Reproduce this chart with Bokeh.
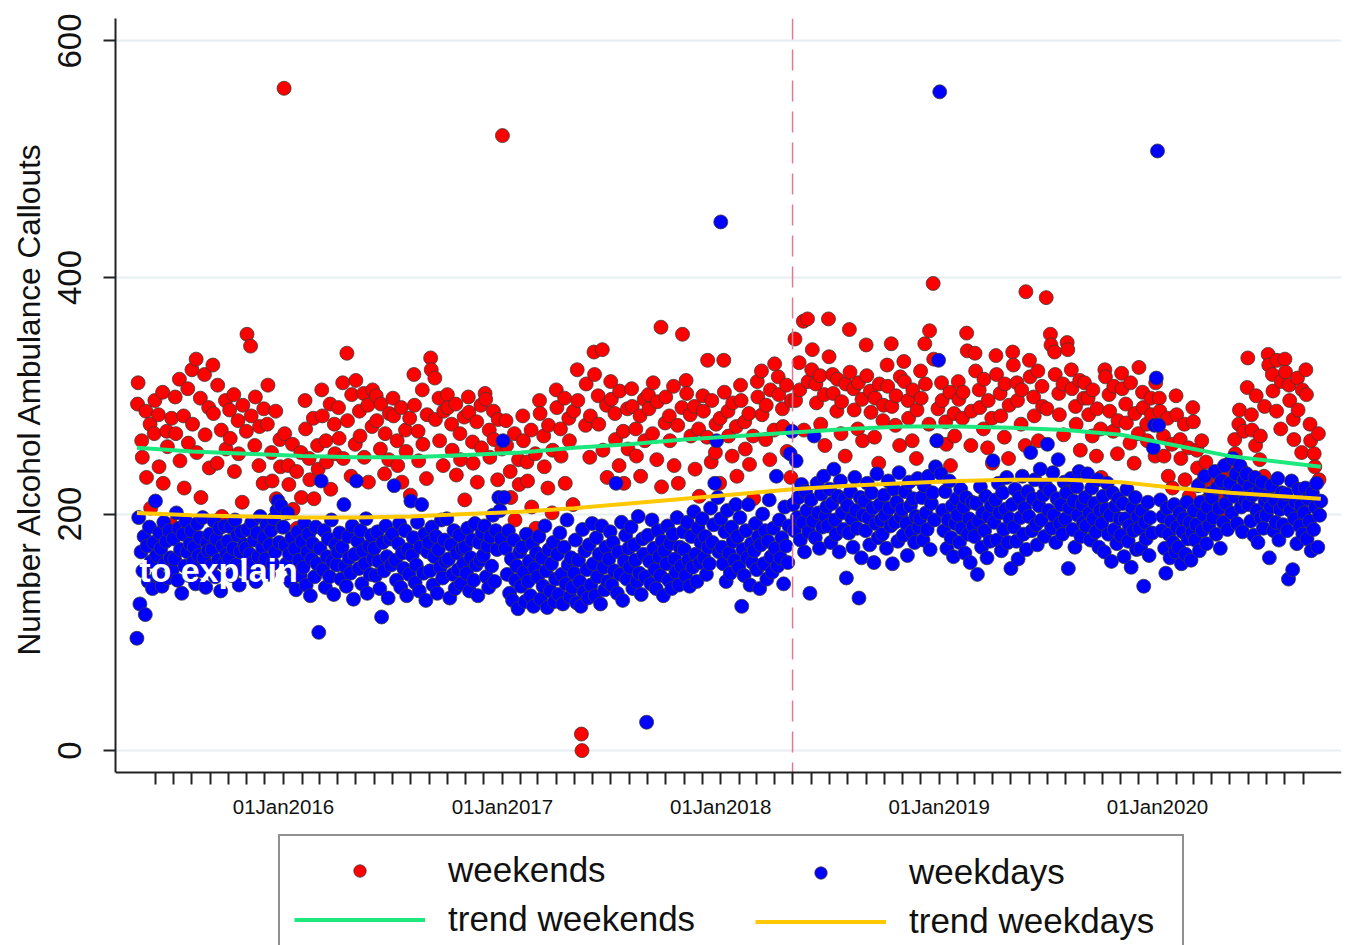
import datetime as dt
from bokeh.plotting import figure
from bokeh.models import (FixedTicker, Legend, LegendItem, Label, Range1d, LinearAxis, Title)
from bokeh.embed import file_html
from bokeh.resources import INLINE

# ---------------- data ----------------
# weekend (Sat/Sun) callouts, chronological within each year
weekend_2015 = [293,311,262,248,287,231,276,205,268,296, 284,240,303,226,270,257,191,281,
                299,268,314,245,283,222,306,260, 322,276,331,252,298,214,318,267,290,239,
                326,285,243,309,271,198,296,255, 288,264,301,236,279,251,210,292,270,
                352,342,283,258,299,241,274,226,289, 276,309,252,228,287,213,263,240]
weekend_2016 = [560,268,241,225,259,204,236,188,252,214, 296,272,247,229,281,213,258,238,
                305,283,262,244,293,221,276,251, 290,264,311,247,336,279,232,301,259,
                313,287,266,302,248,292,227,274,305, 300,279,255,293,234,268,246,285,
                298,283,262,241,290,227,271,253,281,216, 318,292,270,245,305,259,230,284,
                332,322,315,280,298,262,241,287, 301,290,276,254,293,233,268,246,282,212,
                299,286,261,243,278,227,292,256, 302,297,271,248,287,263,229,280,255]
weekend_2017 = [520,279,258,236,214,268,195,246,225, 283,262,244,228,271,206,251,188,
                296,285,266,240,222,275,201,254, 305,290,272,249,298,226,281,262,208,287,
                322,296,14,0,275,310,248,283, 337,318,300,276,339,254,292,231,
                312,297,285,263,241,304,270,226,289,255, 306,291,272,249,283,232,297,262,
                301,289,268,311,246,295,358,223,277, 299,283,262,308,241,275,226,290,352,
                313,302,284,266,291,238,272,215, 300,287,265,330,244,296,252,276,226,281]
weekend_2018 = [330,303,287,266,249,294,274,232, 309,296,278,255,285,242,266,213,
                312,299,321,284,263,292,246,305,271, 327,316,301,289,274,309,253,231,296,
                348,296,328,305,363,271,365,312, 322,339,310,294,317,276,301,258,365,
                333,318,302,287,314,268,295,249,310, 356,320,306,288,272,311,297,262,
                343,317,304,286,265,298,243,310,279,292, 326,308,344,291,275,300,258,316,
                329,312,296,281,262,305,247,288, 321,298,344,310,276,355,395,331,262,289]
weekend_2019 = [311,296,278,259,303,241,285,266, 312,297,281,303,353,338,258,287,
                336,321,305,290,272,314,256,296,281,243, 334,318,302,283,265,310,247,292,
                337,326,311,296,276,305,258,388, 330,316,299,283,321,262,308,291,383,289,
                352,343,337,318,302,284,310,267, 345,339,322,306,291,276,313,254,298,
                311,298,284,266,305,249,289,272,231, 322,316,301,287,270,308,251,279,
                319,306,293,277,260,311,243,285,268, 324,303,290,276,262,298,284,249,311]
weekend_2020 = [298,287,266,249,281,232,259,222, 300,284,263,247,276,229,256,215,290,
                278,254,239,226,262,211,244,203,230, 232,219,207,226,201,238,214,222,
                244,229,263,251,276,288,236,270,307,332, 284,271,258,300,246,266,232,291,
                335,326,318,304,287,330,272,312, 331,320,309,296,280,263,315,288,252,305,
                322,301,276,262,251,240,268,229]

# weekday callouts (Mon/Wed/Fri shown), chronological within each year
weekday_2015 = [95,197,124,168,152,181,115,173,143,189,160,137,176,
                211,165,148,184,171,139,193,158,177,146,186,163,152,
                179,162,201,144,188,170,133,183,156,194,168,148,175,
                186,159,172,141,192,165,180,152,197,163,138,176,169,
                183,156,170,194,147,179,161,188,135,173,158,190,166,
                177,162,189,148,171,195,157,182,140,168,185,153,174,
                171,187,150,166,193,159,178,143,184,164,198,155,172,
                180,162,191,149,174,186,158,196,168,203,211,176,207,189]
weekday_2016 = [189,174,158,201,166,143,180,152,171,136,185,161,148,
                177,155,192,140,168,183,131,162,175,147,189,158,100,
                171,228,153,186,138,164,179,147,195,160,132,174,157,
                168,184,145,172,208,156,139,181,163,150,190,128,166,
                228,177,154,186,141,169,158,196,133,173,149,182,162,
                171,148,185,160,137,113,176,152,190,164,129,179,157,
                183,224,161,144,175,192,138,167,154,186,131,170,149,
                211,165,180,142,157,193,135,172,208,150,183,127,168,
                176,152,189,140,164,181,133,170,155,195,146,178,160,
                196,162,129,174,149,186,137,167,153,182,141,171,158,
                172,150,188,135,163,178,144,192,157,131,176,161,184,
                165,190,147,173,138,181,156,199,143,186,170,214,203,179]
weekday_2017 = [262,214,171,149,186,133,162,127,178,144,156,120,168,
                139,172,151,126,183,143,160,131,175,122,154,167,
                147,181,128,163,139,190,152,121,170,135,158,176,126,145,
                166,132,184,149,124,172,141,195,157,130,163,138,
                150,178,125,161,143,122,187,134,169,153,129,174,140,192,
                158,131,180,147,166,124,190,155,136,172,143,162,185,
                140,176,152,226,133,168,149,193,127,160,182,145,171,
                155,189,137,174,161,143,198,150,132,179,166,147,24,
                182,160,141,195,171,153,137,186,164,148,177,131,169,
                158,190,144,175,137,183,162,151,197,140,172,156,185,
                170,148,193,161,139,181,155,202,166,143,188,159,176,
                196,163,181,149,172,158,205,176,191,226,262,214,168]
weekday_2018 = [447,196,172,158,185,143,203,167,150,189,177,161,208,
                181,155,197,122,170,148,186,163,208,140,175,159,
                169,192,153,181,137,174,200,158,186,145,177,212,164,151,
                188,171,232,156,195,163,180,141,206,173,159,190,
                251,270,208,186,245,197,214,178,225,193,168,219,203,185,
                133,212,194,266,180,226,201,171,217,189,232,198,206,
                190,221,176,209,238,195,183,215,168,228,201,187,213,
                146,207,184,219,196,172,231,203,188,129,214,163,199,
                211,186,226,197,174,218,205,159,192,234,180,208,195,
                183,216,199,171,228,205,190,158,221,193,210,177,235,198,
                204,182,219,192,165,227,207,185,213,176,198,230,189,
                196,214,178,224,201,187,232,170,209,218,195,240,262,330]
weekday_2019 = [557,234,203,186,219,171,195,228,180,207,164,192,213,
                199,176,221,188,206,167,214,183,196,159,210,190,
                181,209,149,194,223,172,201,186,215,163,198,177,207,
                245,193,212,178,226,201,169,218,187,204,231,176,196,
                154,208,189,221,177,162,214,197,232,183,205,170,219,
                198,252,186,213,229,191,174,207,238,195,216,181,224,
                259,203,220,188,235,199,176,213,246,192,208,183,227,
                196,218,154,205,230,187,211,172,223,199,236,181,208,193,
                214,190,234,201,178,222,196,209,185,229,172,203,
                192,215,168,204,226,183,199,160,218,187,207,175,213,196,
                182,209,164,196,221,177,190,155,205,186,214,170,198,
                188,171,203,139,193,179,210,165,197,184,256,275,315]
weekday_2020 = [507,275,212,186,198,171,150,205,183,163,194,176,208,168,
                189,172,201,158,185,196,166,210,179,193,161,184,
                203,178,191,224,169,210,186,199,232,175,206,190,218,
                214,197,236,183,222,205,171,228,193,241,209,187,219,
                226,201,247,215,234,192,220,241,206,185,229,212,234,
                208,223,194,216,182,231,203,176,219,197,227,188,211,
                199,215,163,206,224,186,212,193,230,178,204,218,191,209,
                217,186,145,203,228,153,196,210,175,221,190,207,183,
                201,222,179,213,194,169,218,187,206,226,172,199,211]

# smoothed trends
trend_dates = ["2015-05-01","2015-08-01","2015-11-01","2016-02-01","2016-05-01","2016-08-01",
               "2016-11-01","2017-02-01","2017-05-01","2017-08-01","2017-11-01","2018-02-01",
               "2018-05-01","2018-08-01","2018-11-01","2019-02-01","2019-05-01","2019-08-01",
               "2019-11-01","2020-02-01","2020-05-01","2020-09-30"]
trend_weekends = [256,253,251,249,248,248,250,252,256,259,263,266,269,272,274,274,273,271,267,258,249,240]
trend_weekdays = [201,199,198,197,197,198,200,202,205,209,213,217,221,224,226,228,229,229,227,222,218,213]

year_labels = ["01Jan2016", "01Jan2017", "01Jan2018", "01Jan2019", "01Jan2020"]
policy_date = "2018-05-01"
y_ticks = [0, 200, 400, 600]
Y_LO, Y_HI = -18.5, 619.0          # extent of the value axis
X_LO, X_HI = "2015-03-26", "2020-11-03"

# ---------------- helpers ----------------
ORIGIN = dt.date(2015, 1, 1)


def dnum(d):
    if isinstance(d, str):
        d = dt.date.fromisoformat(d)
    return (d - ORIGIN).days


SPANS = {2015: (dt.date(2015, 5, 1), dt.date(2015, 12, 31)),
         2016: (dt.date(2016, 1, 1), dt.date(2016, 12, 31)),
         2017: (dt.date(2017, 1, 1), dt.date(2017, 12, 31)),
         2018: (dt.date(2018, 1, 1), dt.date(2018, 12, 31)),
         2019: (dt.date(2019, 1, 1), dt.date(2019, 12, 31)),
         2020: (dt.date(2020, 1, 1), dt.date(2020, 9, 30))}


def sampled_days(year, wds):
    a, b = SPANS[year]
    out = []
    d = a
    while d <= b:
        if d.weekday() in wds:
            out.append(d)
        d += dt.timedelta(days=1)
    return out


def place(values, year, wds):
    days = sampled_days(year, wds)
    n, m = len(values), len(days)
    return [dnum(days[i * m // n]) for i in range(n)]


we_x, we_y, wd_x, wd_y = [], [], [], []
for yr, wev, wdv in [(2015, weekend_2015, weekday_2015), (2016, weekend_2016, weekday_2016),
                     (2017, weekend_2017, weekday_2017), (2018, weekend_2018, weekday_2018),
                     (2019, weekend_2019, weekday_2019), (2020, weekend_2020, weekday_2020)]:
    we_x += place(wev, yr, (5, 6))
    we_y += wev
    wd_x += place(wdv, yr, (0, 2, 4))
    wd_y += wdv

tr_x = [dnum(s) for s in trend_dates]

FONT = "Liberation Sans"
W, H = 1351, 945
TOP, LEFT, RIGHT = 18, 115, 10
AXIS_BOTTOM = 772
# the plotting frame runs to the bottom of the canvas, so that the legend can sit in it;
# the value scale keeps Y_LO..Y_HI between page y 18 and page y 772
px_per_unit = (AXIS_BOTTOM - TOP) / (Y_HI - Y_LO)
y_bottom = Y_LO - (H - AXIS_BOTTOM) / px_per_unit

p = figure(width=W, height=H,
           x_range=Range1d(dnum(X_LO) + 0.2, dnum(X_HI) + 0.6), y_range=Range1d(y_bottom, Y_HI),
           output_backend="svg", toolbar_location=None, x_axis_location=None,
           min_border_left=LEFT, min_border_right=RIGHT, min_border_top=TOP, min_border_bottom=0)
p.outline_line_color = None
p.background_fill_color = "white"
p.border_fill_color = "white"

r_we = p.scatter(we_x, we_y, size=14, fill_color="#ff0000", line_color="#3a3a3a", line_width=0.8)
r_wd = p.scatter(wd_x, wd_y, size=14, fill_color="#0000ff", line_color="#3a3a3a", line_width=0.8)
l_we = p.line(tr_x, trend_weekends, line_color="#1de87e", line_width=4)
l_wd = p.line(tr_x, trend_weekdays, line_color="#ffc800", line_width=4)

# vertical reference line at the policy date
p.segment(x0=[dnum(policy_date)], y0=[Y_HI], x1=[dnum(policy_date)], y1=[Y_LO],
          line_color="#e07a95", line_width=1.5, line_dash="21 10")

# x axis: monthly ticks, labels on 1 January
month_ticks = []
overrides = {}
y, m = 2015, 6
while (y, m) <= (2020, 9):
    t = dnum(dt.date(y, m, 1))
    month_ticks.append(t)
    overrides[t] = ""
    m += 1
    if m > 12:
        m, y = 1, y + 1
for lab in year_labels:
    overrides[dnum(dt.date(int(lab[-4:]), 1, 1))] = lab

xa = LinearAxis(fixed_location=Y_LO, ticker=FixedTicker(ticks=month_ticks))
xa.major_label_overrides = overrides
xa.minor_tick_line_color = None
xa.major_tick_in = 0
xa.major_tick_out = 12
xa.major_tick_line_width = 2
xa.major_tick_line_color = "#222222"
xa.axis_line_width = 2
xa.axis_line_color = "#222222"
xa.major_label_text_font = FONT
xa.major_label_text_font_size = "20.5px"
xa.major_label_text_color = "#111111"
xa.major_label_standoff = 10
p.add_layout(xa, "below")

ya = p.yaxis[0]
ya.ticker = FixedTicker(ticks=y_ticks)
ya.bounds = (Y_LO, Y_HI)
ya.minor_tick_line_color = None
ya.major_tick_in = 0
ya.major_tick_out = 12
ya.major_tick_line_width = 2
ya.major_tick_line_color = "#222222"
ya.axis_line_width = 2
ya.axis_line_color = "#222222"
ya.major_label_orientation = "vertical"
ya.major_label_text_font = FONT
ya.major_label_text_font_size = "33px"
ya.major_label_text_color = "#111111"
ya.major_label_standoff = 22

# value-axis title: starts at the bottom of the frame and is lifted so that it
# sits centred on the value axis (page y 140..655)
TITLE_BOTTOM = 655
p.add_layout(Title(text="Number Alcohol Ambulance Callouts", align="left",
                   offset=H - TITLE_BOTTOM, standoff=13, vertical_align="top",
                   text_font=FONT, text_font_size="31.6px", text_font_style="normal",
                   text_color="#111111"), "left")

p.xgrid.visible = False
p.ygrid.grid_line_color = "#e6eef1"
p.ygrid.grid_line_width = 2

# white overlay text fragment visible over the points
p.add_layout(Label(x=dnum("2015-03-31"), y=153, text="t to explain", text_color="white",
                   text_font=FONT, text_font_size="34px", text_font_style="bold",
                   text_baseline="middle", text_align="left"))

common = dict(orientation="vertical", margin=0, padding=14, spacing=9,
              glyph_width=131, glyph_height=31, label_height=40, label_standoff=23,
              label_text_font=FONT, label_text_font_size="35px", label_text_color="#111111")
leg1 = Legend(items=[LegendItem(label="weekends", renderers=[r_we]),
                     LegendItem(label="trend weekends", renderers=[l_we])],
              location=(163, -10), label_width=720,
              border_line_color="#222222", border_line_width=2,
              background_fill_color="white", background_fill_alpha=1.0, **common)
leg2 = Legend(items=[LegendItem(label="weekdays", renderers=[r_wd]),
                     LegendItem(label="trend weekdays", renderers=[l_wd])],
              location=(626, -10), label_width=250,
              border_line_alpha=0, background_fill_alpha=0, **common)
p.add_layout(leg1)
p.add_layout(leg2)

open("out.html", "w").write(file_html(p, INLINE))
